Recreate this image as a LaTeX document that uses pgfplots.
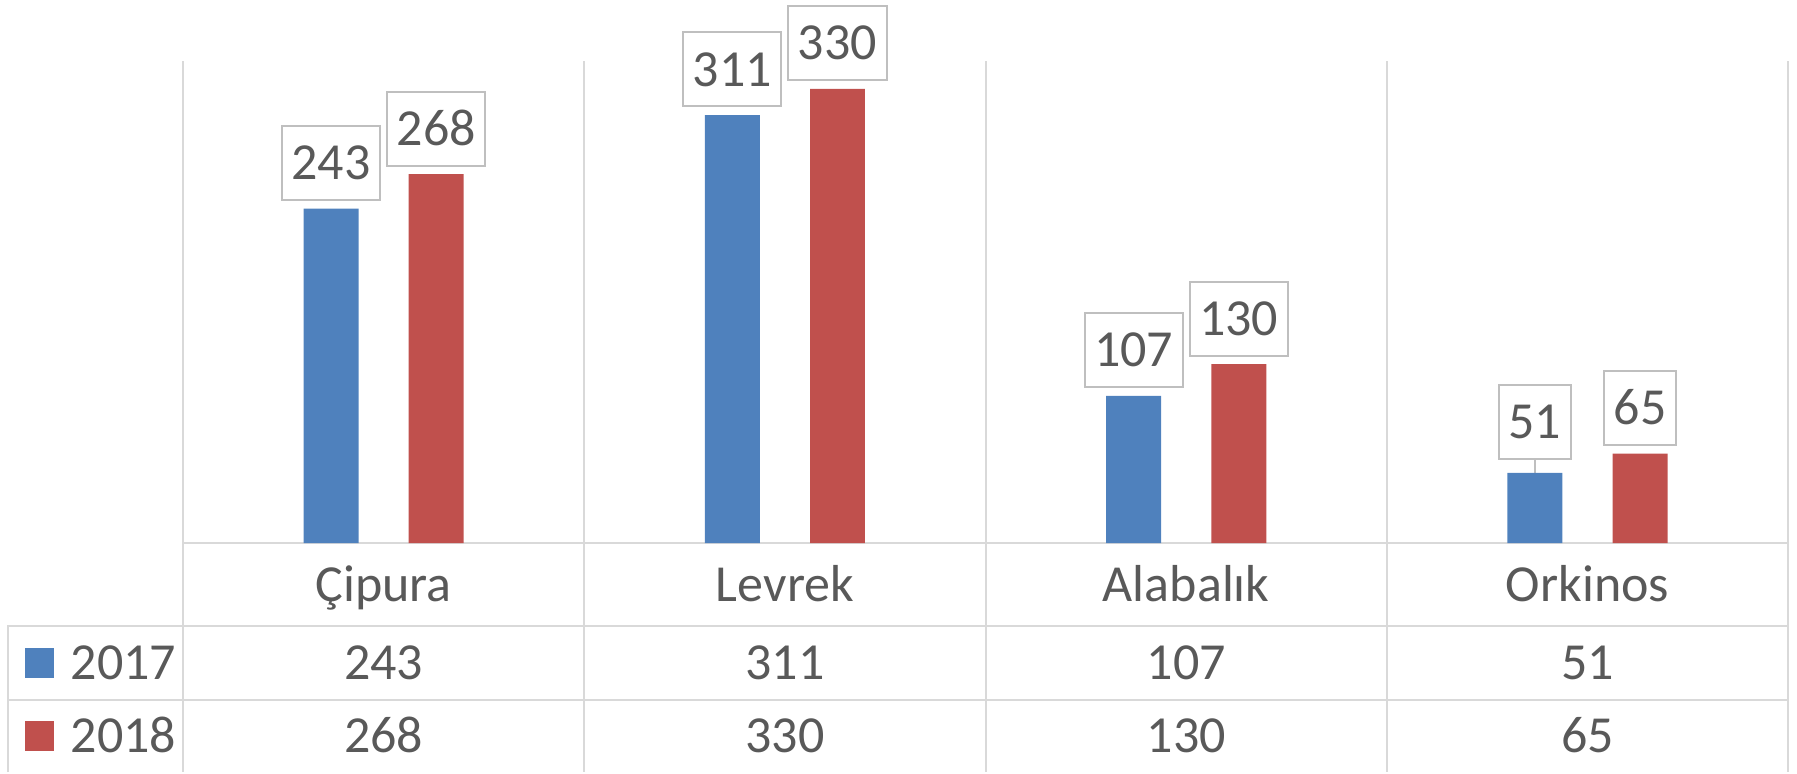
\documentclass[border=0pt]{standalone}
\usepackage{fontspec}
\setmainfont{Carlito}
\usepackage{pgfplots}
\pgfplotsset{compat=1.18}
\definecolor{blue17}{HTML}{4F81BD}
\definecolor{red18}{HTML}{C0504D}
\definecolor{txt}{HTML}{595959}
\definecolor{gridc}{HTML}{D9D9D9}
\definecolor{lblbox}{HTML}{BFBFBF}

\begin{document}
\fontsize{13}{15.6}\selectfont
\begin{tikzpicture}[tbl/.style={text=txt, text height=8.3pt, text depth=0pt, inner sep=0pt}]
\begin{axis}[
  scale only axis, width=401.25pt, height=120.4pt,
  xmin=0, xmax=4, ymin=0, ymax=350,
  axis lines=none, clip=false,
  ybar, bar width=0.137,
  /pgf/number format/assume math mode=true,
  nodes near coords,
  nodes near coords style={draw=lblbox, fill=white, text=txt, line width=0.5pt,
    inner xsep=2.4pt, inner ysep=5.1pt, text height=8.3pt, text depth=0pt,
    anchor=south},
]
% frame of the plot area and the data table
\path (axis cs:-0.456,-166.4) rectangle (axis cs:4.022,394.6);
\pgfplotsinvokeforeach{0,1,2,3,4}{
  \draw[gridc, line width=0.5pt] (axis cs:#1,350) -- (axis cs:#1,-166.4);
}
\draw[gridc, line width=0.5pt] (axis cs:0,0) -- (axis cs:4,0);
\draw[gridc, line width=0.5pt] (axis cs:-0.436,-166.4) -- (axis cs:-0.436,-60.3) -- (axis cs:4,-60.3);
\draw[gridc, line width=0.5pt] (axis cs:-0.436,-114.1) -- (axis cs:4,-114.1);
% leader line of the moved label
\draw[lblbox, line width=0.5pt] (axis cs:3.369,51) -- ++(0,3.3pt);

\addplot[fill=blue17, draw=none, bar shift=-0.131,
  visualization depends on={\thisrow{lift}\as\lift},
  nodes near coords style={yshift=\lift pt}] table {
x   y   lift
0.5 243 1.9
1.5 311 1.9
2.5 107 1.9
3.5 51  3.15
};
\addplot[fill=red18, draw=none, bar shift=0.131,
  nodes near coords style={yshift=1.9pt}]
  coordinates {(0.5,268) (1.5,330) (2.5,130) (3.5,65)};

% category row
\node[tbl] at (axis cs:0.5,-30.15) {Çipura};
\node[tbl] at (axis cs:1.5,-30.15) {Levrek};
\node[tbl] at (axis cs:2.5,-30.15) {Alabalık};
\node[tbl] at (axis cs:3.5,-30.15) {Orkinos};
% legend keys
\node[fill=blue17, minimum size=7.3pt, inner sep=0pt] at (axis cs:-0.358,-87.2) {};
\node[fill=red18, minimum size=7.3pt, inner sep=0pt] at (axis cs:-0.358,-140.25) {};
\node[tbl, anchor=west] at (axis cs:-0.2816,-87.2) {2017};
\node[tbl, anchor=west] at (axis cs:-0.2816,-140.25) {2018};
% values
\node[tbl] at (axis cs:0.5,-87.2) {243};
\node[tbl] at (axis cs:1.5,-87.2) {311};
\node[tbl] at (axis cs:2.5,-87.2) {107};
\node[tbl] at (axis cs:3.5,-87.2) {51};
\node[tbl] at (axis cs:0.5,-140.25) {268};
\node[tbl] at (axis cs:1.5,-140.25) {330};
\node[tbl] at (axis cs:2.5,-140.25) {130};
\node[tbl] at (axis cs:3.5,-140.25) {65};
\end{axis}
\end{tikzpicture}
\end{document}
